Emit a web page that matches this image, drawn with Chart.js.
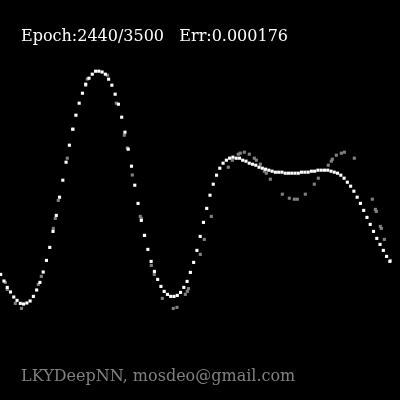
<!DOCTYPE html>
<html>
<head>
<meta charset="utf-8">
<script src="https://cdn.jsdelivr.net/npm/chart.js@4/dist/chart.umd.min.js"></script>
<style>
  html, body { margin: 0; padding: 0; background: #000; }
  #wrap { width: 400px; height: 400px; }
  canvas { display: block; }
</style>
</head>
<body>
<div id="wrap"><canvas id="c" width="400" height="400"></canvas></div>
<script>
// Network output, one value per sample index 0..119
const outputValues = [
  -0.372, -0.405, -0.437, -0.460, -0.485, -0.502, -0.517, -0.520, -0.515, -0.505,
  -0.482, -0.450, -0.412, -0.360, -0.302, -0.237, -0.157, -0.077, 0.014, 0.099,
  0.189, 0.274, 0.354, 0.424, 0.484, 0.534, 0.579, 0.609, 0.629, 0.644,
  0.644, 0.640, 0.629, 0.604, 0.574, 0.529, 0.479, 0.414, 0.339, 0.254,
  0.169, 0.074, -0.017, -0.102, -0.177, -0.247, -0.307, -0.357, -0.397, -0.432,
  -0.457, -0.472, -0.482, -0.482, -0.477, -0.462, -0.437, -0.407, -0.362, -0.312,
  -0.252, -0.182, -0.112, -0.042, 0.024, 0.079, 0.124, 0.159, 0.184, 0.199,
  0.209, 0.214, 0.209, 0.209, 0.199, 0.194, 0.184, 0.179, 0.174, 0.164,
  0.159, 0.154, 0.149, 0.144, 0.139, 0.139, 0.139, 0.134, 0.134, 0.134,
  0.134, 0.134, 0.139, 0.139, 0.139, 0.144, 0.144, 0.149, 0.149, 0.149,
  0.149, 0.144, 0.139, 0.134, 0.124, 0.109, 0.089, 0.069, 0.044, 0.014,
  -0.017, -0.052, -0.087, -0.122, -0.157, -0.192, -0.222, -0.252, -0.282, -0.307
];

// Noisy training samples (x in sample-index units)
const sampleX = [
  1.41, 2.02, 4.46, 6.36, 11.50, 12.42, 16.09, 16.70, 17.61, 20.37,
  22.20, 25.99, 26.48, 32.66, 35.35, 37.80, 38.72, 40.24, 42.69, 43.00,
  43.91, 46.06, 46.97, 49.42, 52.78, 53.91, 56.45, 57.06, 57.43, 61.04,
  62.26, 64.40, 69.60, 70.83, 72.66, 73.27, 74.50, 76.02, 77.55, 78.17,
  79.39, 80.61, 81.22, 82.45, 86.12, 88.26, 89.79, 90.70, 93.15, 95.90,
  97.12, 100.18, 101.10, 101.41, 102.63, 104.16, 105.08, 108.13, 113.64, 114.56,
  114.86, 116.09, 116.39, 117.31, 119.14
];
const sampleY = [
  -0.412, -0.447, -0.517, -0.542, -0.422, -0.382, -0.142, -0.092, -0.002, 0.209,
  0.354, 0.573, 0.605, 0.624, 0.484, 0.324, 0.260, 0.125, -0.082, -0.093,
  -0.177, -0.327, -0.372, -0.492, -0.542, -0.537, -0.472, -0.457, -0.443, -0.272,
  -0.197, -0.082, 0.164, 0.199, 0.229, 0.234, 0.239, 0.229, 0.209, 0.199,
  0.179, 0.144, 0.134, 0.104, 0.029, 0.009, 0.004, 0.004, 0.029, 0.079,
  0.109, 0.174, 0.194, 0.204, 0.224, 0.234, 0.239, 0.209, 0.004, -0.047,
  -0.057, -0.132, -0.142, -0.197, -0.302
];

const titleText = "Epoch:2440/3500   Err:0.000176";
const footerText = "LKYDeepNN, mosdeo@gmail.com";

const outputPoints = outputValues.map((v, i) => ({ x: i, y: v }));
const samplePoints = sampleX.map((x, i) => ({ x: x, y: sampleY[i] }));

const textPlugin = {
  id: 'texts',
  beforeDraw(chart) {
    const ctx = chart.ctx;
    ctx.save();
    ctx.fillStyle = '#000';
    ctx.fillRect(0, 0, chart.width, chart.height);
    ctx.restore();
  },
  afterDraw(chart) {
    const ctx = chart.ctx;
    ctx.save();
    ctx.font = "16px 'DejaVu Serif'";
    ctx.textBaseline = 'alphabetic';
    ctx.textAlign = 'left';
    ctx.fillStyle = '#ffffff';
    ctx.fillText(titleText, 21, 41);
    ctx.fillStyle = '#808080';
    ctx.fillText(footerText, 21, 381);
    ctx.restore();
  }
};

new Chart(document.getElementById('c'), {
  type: 'scatter',
  data: {
    datasets: [
      {
        label: 'output',
        data: outputPoints,
        backgroundColor: '#ffffff',
        borderWidth: 0,
        pointStyle: 'rect',
        pointRadius: 2.2,
        clip: false
      },
      {
        label: 'samples',
        data: samplePoints,
        backgroundColor: '#808080',
        borderWidth: 0,
        pointStyle: 'rect',
        pointRadius: 2.2,
        clip: false
      }
    ]
  },
  options: {
    responsive: false,
    animation: false,
    events: [],
    layout: { padding: 0, autoPadding: false },
    plugins: { legend: { display: false }, tooltip: { enabled: false }, title: { display: false } },
    scales: {
      x: { type: 'linear', display: false, min: -0.21, max: 122.1 },
      y: { type: 'linear', display: false, min: -1, max: 1 }
    }
  },
  plugins: [textPlugin]
});
</script>
</body>
</html>
